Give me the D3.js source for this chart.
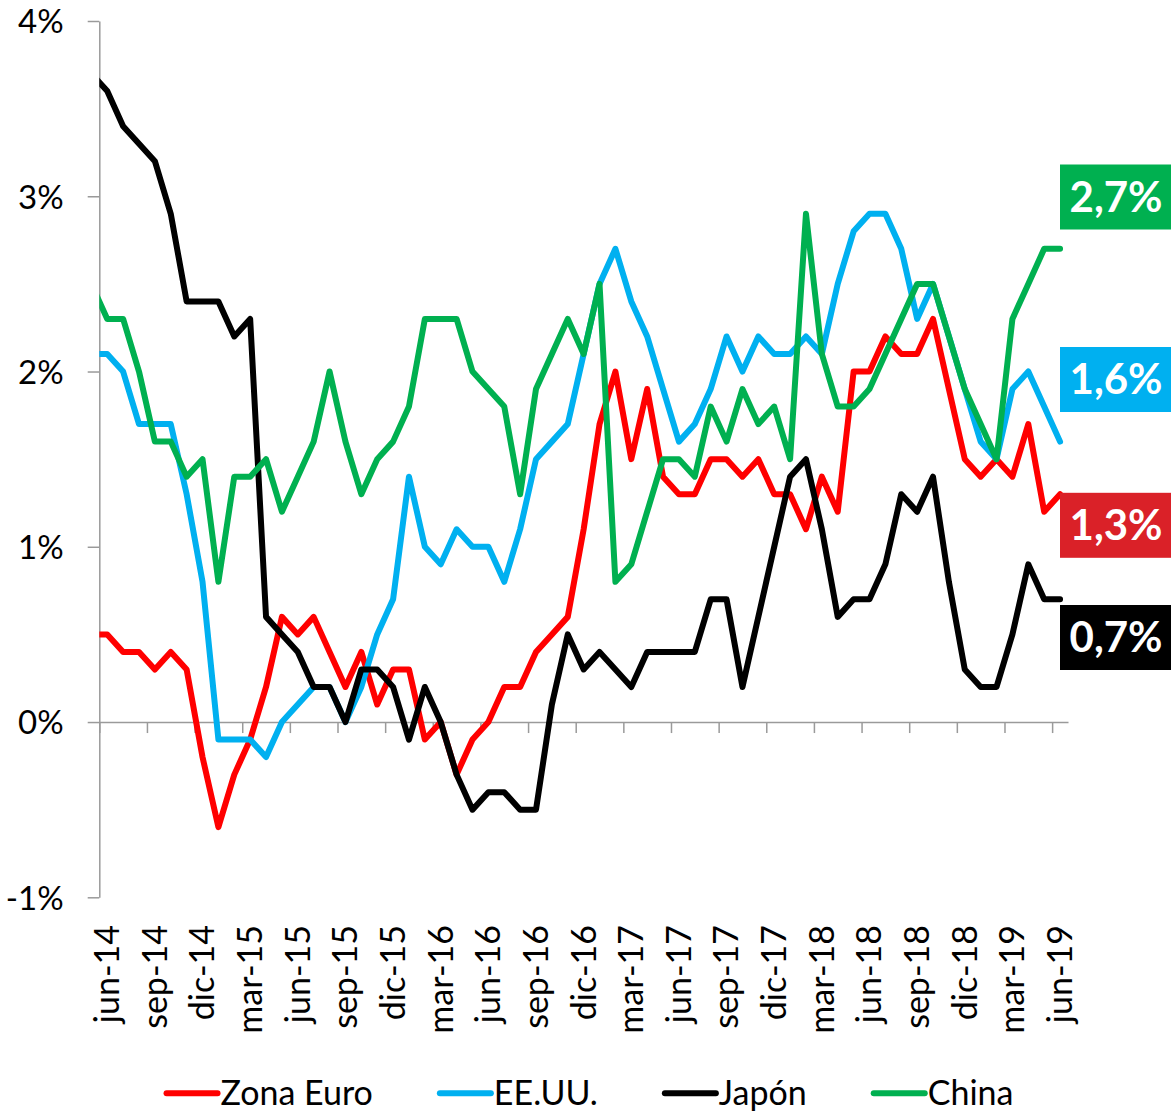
<!DOCTYPE html>
<html>
<head>
<meta charset="utf-8">
<script src="https://cdn.jsdelivr.net/npm/d3@7"></script>
<style>
  body { margin: 0; background: #fff; }
  svg { display: block; font-family: Lato, "Open Sans", sans-serif; }
</style>
</head>
<body>
<div id="chart"></div>
<script>
var width = 1171;
var height = 1114;

// plot area in pixels
var rangeX = [99.3, 1068];
var rangeY = [897.3, 21];

// first entry (may-14) sits before the axis, only its segment up to the axis shows
var months = ["may-14",
  "jun-14","jul-14","ago-14","sep-14","oct-14","nov-14","dic-14",
  "ene-15","feb-15","mar-15","abr-15","may-15","jun-15","jul-15","ago-15","sep-15","oct-15","nov-15","dic-15",
  "ene-16","feb-16","mar-16","abr-16","may-16","jun-16","jul-16","ago-16","sep-16","oct-16","nov-16","dic-16",
  "ene-17","feb-17","mar-17","abr-17","may-17","jun-17","jul-17","ago-17","sep-17","oct-17","nov-17","dic-17",
  "ene-18","feb-18","mar-18","abr-18","may-18","jun-18","jul-18","ago-18","sep-18","oct-18","nov-18","dic-18",
  "ene-19","feb-19","mar-19","abr-19","may-19","jun-19"];

var yTicks = [-1, 0, 1, 2, 3, 4];

var zonaEuro = [0.5,
  0.5, 0.4, 0.4, 0.3, 0.4, 0.3, -0.2, -0.6, -0.3, -0.1,
  0.2, 0.6, 0.5, 0.6, 0.4, 0.2, 0.4, 0.1, 0.3, 0.3,
  -0.1, 0.0, -0.3, -0.1, 0.0, 0.2, 0.2, 0.4, 0.5, 0.6,
  1.1, 1.7, 2.0, 1.5, 1.9, 1.4, 1.3, 1.3, 1.5, 1.5,
  1.4, 1.5, 1.3, 1.3, 1.1, 1.4, 1.2, 2.0, 2.0, 2.2,
  2.1, 2.1, 2.3, 1.9, 1.5, 1.4, 1.5, 1.4, 1.7, 1.2,
  1.3];

var eeuu = [2.1,
  2.1, 2.0, 1.7, 1.7, 1.7, 1.3, 0.8, -0.1, -0.1, -0.1,
  -0.2, 0.0, 0.1, 0.2, 0.2, 0.0, 0.2, 0.5, 0.7, 1.4,
  1.0, 0.9, 1.1, 1.0, 1.0, 0.8, 1.1, 1.5, 1.6, 1.7,
  2.1, 2.5, 2.7, 2.4, 2.2, 1.9, 1.6, 1.7, 1.9, 2.2,
  2.0, 2.2, 2.1, 2.1, 2.2, 2.1, 2.5, 2.8, 2.9, 2.9,
  2.7, 2.3, 2.5, 2.2, 1.9, 1.6, 1.5, 1.9, 2.0, 1.8,
  1.6];

var japon = [3.7,
  3.6, 3.4, 3.3, 3.2, 2.9, 2.4, 2.4, 2.4, 2.2, 2.3,
  0.6, 0.5, 0.4, 0.2, 0.2, 0.0, 0.3, 0.3, 0.2, -0.1,
  0.2, 0.0, -0.3, -0.5, -0.4, -0.4, -0.5, -0.5, 0.1, 0.5,
  0.3, 0.4, 0.3, 0.2, 0.4, 0.4, 0.4, 0.4, 0.7, 0.7,
  0.2, 0.6, 1.0, 1.4, 1.5, 1.1, 0.6, 0.7, 0.7, 0.9,
  1.3, 1.2, 1.4, 0.8, 0.3, 0.2, 0.2, 0.5, 0.9, 0.7,
  0.7];

var china = [2.5,
  2.3, 2.3, 2.0, 1.6, 1.6, 1.4, 1.5, 0.8, 1.4, 1.4,
  1.5, 1.2, 1.4, 1.6, 2.0, 1.6, 1.3, 1.5, 1.6, 1.8,
  2.3, 2.3, 2.3, 2.0, 1.9, 1.8, 1.3, 1.9, 2.1, 2.3,
  2.1, 2.5, 0.8, 0.9, 1.2, 1.5, 1.5, 1.4, 1.8, 1.6,
  1.9, 1.7, 1.8, 1.5, 2.9, 2.1, 1.8, 1.8, 1.9, 2.1,
  2.3, 2.5, 2.5, 2.2, 1.9, 1.7, 1.5, 2.3, 2.5, 2.7,
  2.7];

var seriesNames = ["Zona Euro", "EE.UU.", "Japón", "China"];
var seriesColors = ["#FF0000", "#00B0F0", "#000000", "#00B050"];
var boxColors = ["#DA2128", "#00B0F0", "#000000", "#00B050"];
// vertical centers of the end-value boxes (pixels)
var boxCenters = [525.3, 379.5, 637.5, 197];

var seriesValues = [zonaEuro, eeuu, japon, china];

var svg = d3.select("#chart")
  .append("svg")
  .attr("width", width)
  .attr("height", height);

svg.append("rect").attr("width", width).attr("height", height).attr("fill", "#fff");

// index 1 (jun-14) is the first category, points sit in the middle of each category
var x = d3.scaleLinear().domain([0.5, months.length - 0.5]).range(rangeX);
var y = d3.scaleLinear().domain([yTicks[0], yTicks[yTicks.length - 1]]).range(rangeY);

var axisColor = "#9a9a9a";

// y axis
var yAxis = svg.append("g")
  .attr("transform", "translate(" + rangeX[0] + ",0)")
  .call(d3.axisLeft(y)
    .tickValues(yTicks)
    .tickSize(11.6)
    .tickSizeOuter(0)
    .tickPadding(24)
    .tickFormat(function (d) { return d + "%"; }));

// x axis along 0%
var tickIdx = d3.range(0.5, months.length, 3);
var xAxis = svg.append("g")
  .attr("transform", "translate(0," + y(0) + ")")
  .call(d3.axisBottom(x)
    .tickValues(tickIdx)
    .tickSize(11)
    .tickSizeOuter(0)
    .tickFormat(""));

svg.selectAll(".domain, .tick line")
  .attr("stroke", axisColor)
  .attr("stroke-width", 1.5);

yAxis.selectAll("text")
  .attr("font-size", 33)
  .attr("dy", "0.36em")
  .attr("font-family", "Lato, sans-serif")
  .attr("fill", "#000");

// category labels at the bottom, every 3 months
var labelIdx = d3.range(1, months.length, 3);
svg.append("g")
  .selectAll("text")
  .data(labelIdx)
  .enter()
  .append("text")
  .attr("transform", function (i) { return "translate(" + x(i) + ",925)rotate(-90)"; })
  .attr("text-anchor", "end")
  .attr("dy", "0.35em")
  .attr("font-size", 34)
  .attr("fill", "#000")
  .text(function (i) { return months[i]; });

// lines, clipped at the y axis
svg.append("clipPath")
  .attr("id", "plotClip")
  .append("rect")
  .attr("x", rangeX[0])
  .attr("y", 0)
  .attr("width", width - rangeX[0])
  .attr("height", height);

var line = d3.line()
  .x(function (d, i) { return x(i); })
  .y(function (d) { return y(d); });

svg.append("g")
  .attr("clip-path", "url(#plotClip)")
  .selectAll("path")
  .data(seriesValues)
  .enter()
  .append("path")
  .attr("d", line)
  .attr("fill", "none")
  .attr("stroke", function (d, i) { return seriesColors[i]; })
  .attr("stroke-width", 6)
  .attr("stroke-linejoin", "round")
  .attr("stroke-linecap", "round");

// last value boxes on the right
var fmt = function (v) { return d3.format(".1f")(v).replace(".", ",") + "%"; };
var boxes = svg.append("g")
  .selectAll("g")
  .data(seriesValues)
  .enter()
  .append("g")
  .attr("transform", function (d, i) { return "translate(1060," + boxCenters[i] + ")"; });

boxes.append("rect")
  .attr("x", 0)
  .attr("y", -32.5)
  .attr("width", 112)
  .attr("height", 65)
  .attr("fill", function (d, i) { return boxColors[i]; });

boxes.append("text")
  .attr("x", 56)
  .attr("dy", "0.35em")
  .attr("text-anchor", "middle")
  .attr("font-size", 42)
  .attr("font-weight", "bold")
  .attr("fill", "#fff")
  .text(function (d) { return fmt(d[d.length - 1]); });

// legend
var legend = svg.append("g");
var cursor = 0;
seriesNames.forEach(function (name, i) {
  var item = legend.append("g").attr("transform", "translate(" + cursor + ",0)");
  item.append("line")
    .attr("x1", 3).attr("x2", 54)
    .attr("y1", 0).attr("y2", 0)
    .attr("stroke", seriesColors[i])
    .attr("stroke-width", 6)
    .attr("stroke-linecap", "round");
  var t = item.append("text")
    .attr("x", 57)
    .attr("y", 11.7)
    .attr("font-size", 34)
    .attr("fill", "#000")
    .text(name);
  cursor += 57 + t.node().getComputedTextLength() + 64;
});
var legendWidth = cursor - 64;
legend.attr("transform", "translate(" + (588.5 - legendWidth / 2) + ",1093.3)");
</script>
</body>
</html>
